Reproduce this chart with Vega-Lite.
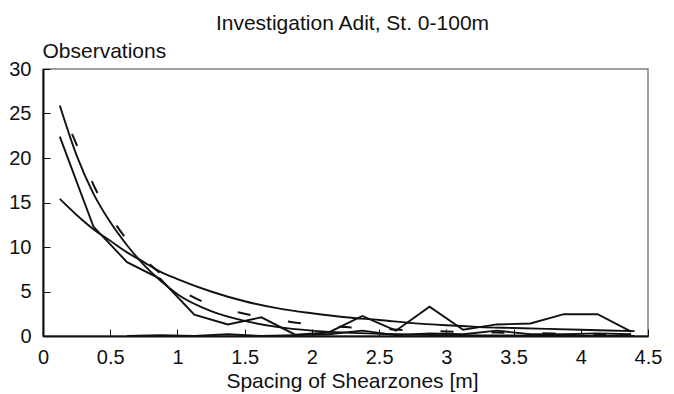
{
  "$schema": "https://vega.github.io/schema/vega-lite/v6.json",
  "width": 605,
  "height": 267,
  "autosize": {"type": "none"},
  "padding": {"left": 43, "top": 69, "right": 26, "bottom": 58},
  "background": "white",
  "title": {
    "text": "Investigation Adit, St. 0-100m",
    "font": "Liberation Sans",
    "fontSize": 21,
    "fontWeight": "normal",
    "color": "#111111",
    "anchor": "middle",
    "dx": 7,
    "offset": 6
  },
  "config": {
    "view": {"stroke": "#808080", "strokeWidth": 1.5},
    "axis": {
      "grid": false,
      "domainColor": "#111111",
      "domainWidth": 2,
      "tickColor": "#111111",
      "tickWidth": 1,
      "tickSize": -7,
      "labelFont": "Liberation Sans",
      "labelFontSize": 20,
      "labelColor": "#111111",
      "titleFont": "Liberation Sans",
      "titleFontSize": 21,
      "titleFontWeight": "normal",
      "titleColor": "#111111"
    }
  },
  "data": {
    "values": [
      {"s": "A", "x": 0.125, "y": 22.4},
      {"s": "A", "x": 0.375, "y": 12.3},
      {"s": "A", "x": 0.625, "y": 8.3},
      {"s": "A", "x": 0.875, "y": 6.4},
      {"s": "A", "x": 1.125, "y": 2.4},
      {"s": "A", "x": 1.375, "y": 1.3},
      {"s": "A", "x": 1.625, "y": 2.1},
      {"s": "A", "x": 1.875, "y": 0.15},
      {"s": "A", "x": 2.125, "y": 0.4},
      {"s": "A", "x": 2.375, "y": 2.25},
      {"s": "A", "x": 2.625, "y": 0.6},
      {"s": "A", "x": 2.875, "y": 3.3},
      {"s": "A", "x": 3.125, "y": 0.7},
      {"s": "A", "x": 3.375, "y": 1.3},
      {"s": "A", "x": 3.625, "y": 1.4},
      {"s": "A", "x": 3.875, "y": 2.45},
      {"s": "A", "x": 4.125, "y": 2.45},
      {"s": "A", "x": 4.375, "y": 0.5},
      {"s": "B", "x": 0.125, "y": 15.4},
      {"s": "B", "x": 0.25, "y": 13.6},
      {"s": "B", "x": 0.375, "y": 12.0},
      {"s": "B", "x": 0.5, "y": 10.7},
      {"s": "B", "x": 0.625, "y": 9.4},
      {"s": "B", "x": 0.75, "y": 8.3},
      {"s": "B", "x": 0.875, "y": 7.2},
      {"s": "B", "x": 1.0, "y": 6.4},
      {"s": "B", "x": 1.25, "y": 5.0},
      {"s": "B", "x": 1.5, "y": 3.9},
      {"s": "B", "x": 1.75, "y": 3.1},
      {"s": "B", "x": 2.0, "y": 2.55},
      {"s": "B", "x": 2.25, "y": 2.1},
      {"s": "B", "x": 2.5, "y": 1.8},
      {"s": "B", "x": 2.75, "y": 1.45},
      {"s": "B", "x": 3.0, "y": 1.2},
      {"s": "B", "x": 3.25, "y": 1.0},
      {"s": "B", "x": 3.5, "y": 0.9},
      {"s": "B", "x": 3.75, "y": 0.8},
      {"s": "B", "x": 4.0, "y": 0.7},
      {"s": "B", "x": 4.2, "y": 0.62},
      {"s": "B", "x": 4.4, "y": 0.55},
      {"s": "C", "x": 0.125, "y": 25.9},
      {"s": "C", "x": 0.25, "y": 20.3},
      {"s": "C", "x": 0.375, "y": 16.0},
      {"s": "C", "x": 0.5, "y": 12.8},
      {"s": "C", "x": 0.625, "y": 10.2},
      {"s": "C", "x": 0.75, "y": 8.0},
      {"s": "C", "x": 0.875, "y": 6.2},
      {"s": "C", "x": 1.0, "y": 4.7},
      {"s": "C", "x": 1.25, "y": 2.8},
      {"s": "C", "x": 1.5, "y": 1.7},
      {"s": "C", "x": 1.75, "y": 1.0},
      {"s": "C", "x": 2.0, "y": 0.6},
      {"s": "C", "x": 2.5, "y": 0.25},
      {"s": "C", "x": 3.0, "y": 0.1},
      {"s": "C", "x": 3.5, "y": 0.05},
      {"s": "C", "x": 4.0, "y": 0.02},
      {"s": "C", "x": 4.4, "y": 0.01},
      {"s": "D", "x": 0.125, "y": 25.9},
      {"s": "D", "x": 0.25, "y": 21.5},
      {"s": "D", "x": 0.375, "y": 17.0},
      {"s": "D", "x": 0.5, "y": 13.5},
      {"s": "D", "x": 0.625, "y": 10.8},
      {"s": "D", "x": 0.75, "y": 8.7},
      {"s": "D", "x": 0.875, "y": 7.0},
      {"s": "D", "x": 1.0, "y": 5.4},
      {"s": "D", "x": 1.125, "y": 4.3},
      {"s": "D", "x": 1.25, "y": 3.5},
      {"s": "D", "x": 1.5, "y": 2.5},
      {"s": "D", "x": 1.75, "y": 1.8},
      {"s": "D", "x": 2.0, "y": 1.3},
      {"s": "D", "x": 2.25, "y": 1.0},
      {"s": "D", "x": 2.5, "y": 0.8},
      {"s": "D", "x": 3.0, "y": 0.5},
      {"s": "D", "x": 3.5, "y": 0.35},
      {"s": "D", "x": 4.0, "y": 0.25},
      {"s": "D", "x": 4.4, "y": 0.2},
      {"s": "E", "x": 0.625, "y": 0.0},
      {"s": "E", "x": 0.875, "y": 0.1},
      {"s": "E", "x": 1.125, "y": 0.0},
      {"s": "E", "x": 1.375, "y": 0.2},
      {"s": "E", "x": 1.625, "y": 0.0},
      {"s": "E", "x": 1.875, "y": 0.1},
      {"s": "E", "x": 2.125, "y": 0.2},
      {"s": "E", "x": 2.375, "y": 0.6},
      {"s": "E", "x": 2.625, "y": 0.1},
      {"s": "E", "x": 2.875, "y": 0.3},
      {"s": "E", "x": 3.125, "y": 0.2},
      {"s": "E", "x": 3.375, "y": 0.6},
      {"s": "E", "x": 3.625, "y": 0.2},
      {"s": "E", "x": 3.875, "y": 0.2},
      {"s": "E", "x": 4.125, "y": 0.3},
      {"s": "E", "x": 4.375, "y": 0.2}
    ]
  },
  "encoding": {
    "x": {
      "field": "x",
      "type": "quantitative",
      "scale": {"domain": [0, 4.5], "nice": false, "zero": false},
      "axis": {
        "values": [0, 0.5, 1, 1.5, 2, 2.5, 3, 3.5, 4, 4.5],
        "labelExpr": "datum.value",
        "labelFlush": false,
        "labelPadding": 18,
        "title": "Spacing of Shearzones [m]",
        "titleX": 309,
        "titleY": 51,
        "titleAlign": "center",
        "titleBaseline": "alphabetic"
      }
    },
    "y": {
      "field": "y",
      "type": "quantitative",
      "scale": {"domain": [0, 30], "nice": false},
      "axis": {
        "values": [0, 5, 10, 15, 20, 25, 30],
        "labelFlush": false,
        "labelPadding": 19,
        "title": "Observations",
        "titleAngle": 0,
        "titleX": -1,
        "titleY": -12,
        "titleAlign": "left",
        "titleBaseline": "alphabetic"
      }
    },
    "detail": {"field": "s"}
  },
  "layer": [
    {
      "transform": [{"filter": "datum.s === 'A' || datum.s === 'E'"}],
      "mark": {"type": "line", "color": "#111111", "strokeWidth": 1.9, "clip": true}
    },
    {
      "transform": [{"filter": "datum.s === 'B' || datum.s === 'C'"}],
      "mark": {"type": "line", "color": "#111111", "strokeWidth": 1.9, "interpolate": "monotone", "clip": true}
    },
    {
      "transform": [{"filter": "datum.s === 'D'"}],
      "mark": {"type": "line", "color": "#111111", "strokeWidth": 2, "interpolate": "monotone", "strokeDash": [13, 38], "strokeDashOffset": 20, "clip": true}
    }
  ]
}
